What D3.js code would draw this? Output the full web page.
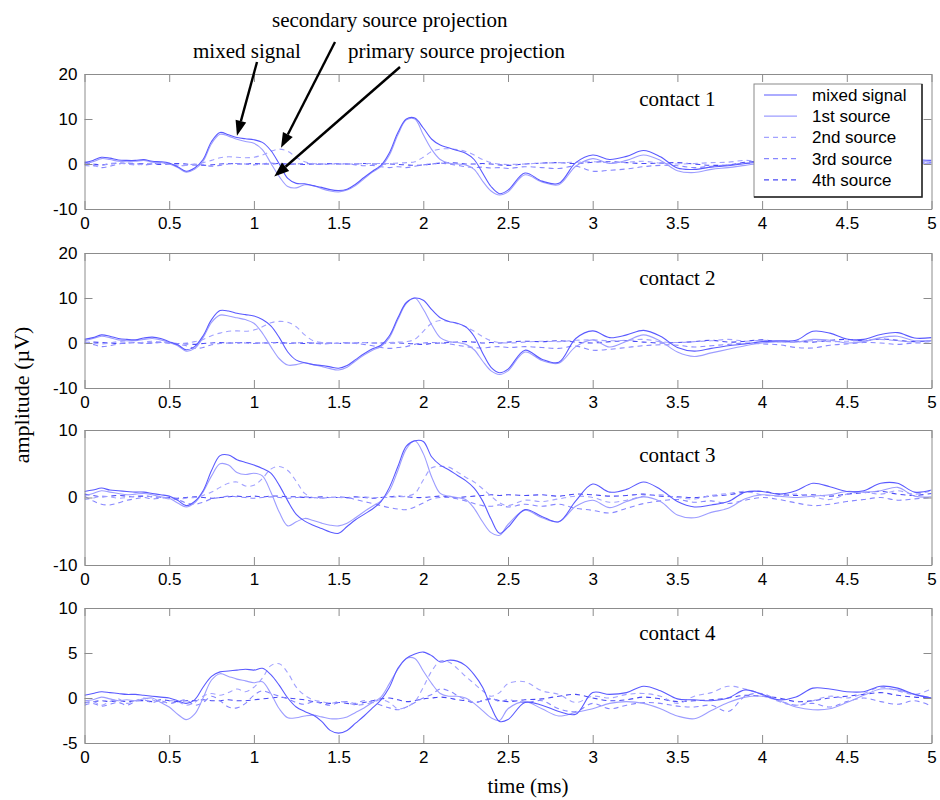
<!DOCTYPE html>
<html>
<head>
<meta charset="utf-8">
<script src="https://cdn.jsdelivr.net/npm/d3@7"></script>
<style>
  body { margin: 0; background: #fff; }
  svg { display: block; }
  .axis .tick text { font-family: "Liberation Sans", Arial, sans-serif; font-size: 17px; fill: #000; }
  .axis path, .axis line { stroke: #8c8c8c; }
</style>
</head>
<body>
<svg id="chart" width="940" height="800"></svg>
<script>
// Sample times (ms): 0.05 ms steps up to 2.5 ms, 0.1 ms steps afterwards
const timeMs = [0,0.05,0.1,0.15,0.2,0.25,0.3,0.35,0.4,0.45,0.5,0.55,0.6,0.65,0.7,0.75,0.8,0.85,0.9,0.95,1,1.05,1.1,1.15,1.2,1.25,1.3,1.35,1.4,1.45,1.5,1.55,1.6,1.65,1.7,1.75,1.8,1.85,1.9,1.95,2,2.05,2.1,2.15,2.2,2.25,2.3,2.35,2.4,2.45,2.5,
  2.6,2.7,2.8,2.9,3,3.1,3.2,3.3,3.4,3.5,3.6,3.7,3.8,3.9,4,4.1,4.2,4.3,4.4,4.5,4.6,4.7,4.8,4.9,5];

const seriesNames = ["mixed signal", "1st source", "2nd source", "3rd source", "4th source"];
const contactNames = ["contact 1", "contact 2", "contact 3", "contact 4"];
const xTickValues = [0,0.5,1,1.5,2,2.5,3,3.5,4,4.5,5];
const yDomains = [[-10,20],[-10,20],[-10,10],[-5,10]];
const yTickValues = [[-10,0,10,20],[-10,0,10,20],[-10,0,10],[-5,0,5,10]];

// contact 1 (µV)
const c1Mixed = [0.3,0.8,1.5,1.3,0.9,0.8,0.8,1.0,0.6,0.5,0.2,-0.6,-1.6,-0.9,1.0,5.0,7.0,6.5,5.9,5.6,5.4,4.8,3.0,0.0,-3.2,-4.3,-4.4,-4.8,-5.2,-5.7,-5.9,-5.6,-4.5,-3.0,-1.6,-0.3,2.5,7.0,10.0,10.2,8.0,5.5,4.2,3.6,3.0,2.4,1.0,-2.0,-5.0,-6.6,-5.8,
  -2.0,-3.8,-4.3,0.3,2.0,1.0,1.7,3.0,1.6,-0.9,-1.2,-0.7,-0.4,0.1,0.5,0.6,0.3,1.2,1.5,0.8,0.5,1.0,1.4,1.0,0.8];
const c1Src1 = [0.0,0.5,1.2,1.0,0.6,0.5,0.6,0.8,0.4,0.3,0.0,-0.8,-1.8,-1.2,0.6,4.5,6.6,6.2,5.5,5.0,4.6,3.2,0.2,-2.8,-5.0,-5.3,-4.6,-4.8,-5.5,-6.0,-6.2,-5.8,-4.8,-3.3,-1.8,-0.6,2.0,6.5,9.8,10.0,6.5,3.2,1.0,0.2,0.0,-0.2,-1.2,-3.8,-6.0,-6.9,-6.2,
  -2.4,-4.0,-4.6,-0.5,1.2,0.1,0.8,2.0,0.8,-1.5,-1.9,-1.2,-0.8,-0.3,0.2,0.3,0.0,0.8,1.0,0.4,0.2,0.6,1.0,0.6,0.5];
const c1Src2 = [-0.3,-0.5,-0.3,0.1,0.2,0.0,-0.2,0.0,0.2,0.1,0.0,-0.2,-0.3,-0.1,0.3,0.8,1.4,1.6,1.5,1.4,1.5,2.0,2.8,3.3,2.8,1.5,0.5,0.1,0.0,0.0,0.0,0.0,0.0,0.1,0.1,0.1,0.1,0.2,0.3,0.5,1.5,2.8,3.3,3.4,3.2,2.8,2.0,1.0,0.3,0.0,-0.1,
  0.0,0.2,0.3,0.4,0.5,0.3,0.4,0.6,0.2,0.0,0.1,0.3,0.4,0.8,0.5,0.3,0.2,0.4,0.3,0.2,0.4,0.3,0.2,0.3,0.2];
const c1Src3 = [0.5,-0.2,-0.8,-0.5,0.0,0.2,0.1,-0.2,0.0,0.2,0.0,-0.4,-0.3,0.0,-0.2,-0.5,-0.3,0.0,0.1,0.0,-0.2,0.0,0.2,0.0,-0.1,0.0,0.1,0.0,-0.1,0.0,0.1,0.0,-0.2,-0.4,-0.3,-0.6,-0.8,-0.6,-0.8,-0.5,-0.2,0.0,0.2,0.0,-0.3,-0.6,-0.8,-0.7,-0.9,-0.8,-1.0,
  -0.6,-0.8,-1.0,-0.5,-1.6,-1.4,-1.1,-0.6,-0.3,-0.4,-0.8,-0.5,-0.2,0.2,0.0,-0.2,0.1,0.0,-0.3,-0.1,0.2,0.0,-0.2,0.1,0.0];
const c1Src4 = [0.2,0.0,-0.2,0.0,0.2,0.1,0.0,0.1,0.0,-0.1,0.0,0.1,0.0,-0.2,-0.3,-0.2,0.0,0.1,0.0,0.0,0.1,0.0,0.0,0.1,0.0,0.0,-0.1,0.0,0.0,0.1,0.0,0.0,0.0,0.1,0.0,0.0,0.0,-0.1,-0.2,-0.3,-0.2,0.0,0.2,0.3,0.2,0.0,0.0,0.1,0.0,-0.2,-0.3,
  0.0,0.2,0.3,0.1,0.4,0.5,0.3,0.1,0.2,0.3,0.0,-0.3,-0.2,0.4,0.6,0.3,0.0,-0.2,0.2,0.4,0.1,0.3,0.5,0.2,0.3];

// contact 2 (µV)
const c2Mixed = [0.8,1.2,1.8,1.5,1.0,0.8,0.7,1.1,1.3,1.0,0.3,-0.4,-1.5,-0.8,1.6,5.2,7.2,7.1,6.6,6.3,6.0,5.2,3.8,1.2,-2.0,-3.8,-4.4,-4.8,-5.0,-5.3,-5.6,-5.0,-3.7,-2.4,-1.3,-0.5,1.6,5.6,9.0,10.0,9.5,7.4,5.6,4.8,4.4,3.6,1.5,-2.2,-5.4,-6.6,-5.8,
  -1.6,-3.6,-4.3,1.0,2.7,1.2,1.8,2.8,1.5,-1.0,-1.8,-1.2,-0.6,-0.2,0.3,0.5,0.6,2.6,2.2,0.9,0.8,1.9,2.3,1.1,1.2];
const c2Src1 = [0.5,1.0,1.5,1.2,0.7,0.5,0.5,0.8,1.0,0.7,0.1,-0.6,-1.8,-1.2,1.2,4.6,6.2,6.0,5.6,5.2,4.4,2.2,-0.8,-3.5,-4.9,-4.8,-4.4,-4.8,-5.2,-5.7,-6.0,-5.4,-4.0,-2.7,-1.6,-0.8,1.2,5.2,8.8,10.0,7.5,4.0,1.2,0.3,0.1,-0.3,-1.5,-4.0,-6.2,-7.0,-6.2,
  -2.0,-3.9,-4.5,-0.8,0.7,-0.9,0.4,1.8,0.4,-2.0,-3.0,-2.2,-1.4,-0.6,0.0,0.3,0.2,0.8,0.6,0.0,0.3,1.2,1.5,0.5,0.6];
const c2Src2 = [0.2,0.0,-0.2,0.0,0.3,0.2,0.0,0.2,0.4,0.2,0.0,-0.2,0.0,0.3,0.8,1.6,2.2,2.6,2.7,2.6,2.9,3.6,4.5,4.8,4.6,3.6,1.8,0.5,0.1,0.0,-0.1,0.0,0.0,0.1,0.0,0.0,0.1,0.2,0.3,0.8,2.6,4.4,5.0,4.8,4.3,3.6,2.6,1.4,0.5,0.1,0.0,
  0.2,0.4,0.3,0.6,0.7,0.5,0.6,0.8,0.3,0.1,0.3,0.5,0.8,0.4,0.6,0.3,0.2,0.5,0.3,0.4,0.6,0.8,0.5,0.2,0.4];
const c2Src3 = [0.3,-0.3,-0.8,-0.6,-0.2,0.0,0.1,-0.1,0.0,0.2,0.0,-0.3,-0.6,-1.2,-1.0,-0.4,-0.1,0.0,0.1,0.0,-0.1,0.0,0.1,0.0,-0.1,0.0,0.1,0.0,-0.2,-0.1,0.0,0.1,-0.1,-0.3,-0.6,-1.0,-1.2,-1.0,-0.8,-0.3,0.0,0.1,0.0,-0.2,-0.5,-0.8,-1.0,-1.1,-0.9,-0.8,-1.0,
  -0.8,-1.0,-1.2,-0.7,-1.6,-1.4,-1.0,-0.6,-0.4,-0.5,-0.9,-0.6,-0.3,0.0,-0.2,-0.4,-1.0,-1.1,-0.5,-0.2,0.1,0.0,-0.3,0.0,-0.1];
const c2Src4 = [0.0,0.2,0.1,0.0,-0.1,0.0,0.1,0.0,0.0,0.1,0.0,-0.1,-0.2,-0.3,-0.1,0.0,0.1,0.0,0.0,0.1,0.0,0.0,0.0,0.1,0.0,0.0,-0.1,0.0,0.0,0.0,-0.1,0.0,0.0,0.1,0.0,0.0,0.0,0.0,-0.1,-0.2,-0.3,-0.1,0.0,0.1,0.2,0.3,0.2,0.0,0.1,0.0,0.2,
  0.4,0.3,0.5,0.2,0.0,0.3,0.5,0.2,0.0,0.1,0.3,0.6,0.2,0.4,0.7,0.3,0.4,0.2,0.6,0.8,0.5,0.9,0.6,0.3,0.5];

// contact 3 (µV)
const c3Mixed = [0.9,1.1,1.4,1.1,1.0,0.9,0.8,0.8,0.6,0.4,0.2,-0.4,-1.2,-0.6,1.0,4.0,6.2,6.3,5.6,5.2,4.8,4.3,3.6,1.8,-0.5,-2.5,-3.5,-4.1,-4.6,-5.1,-5.3,-4.3,-3.3,-2.5,-1.7,-0.6,1.5,4.6,7.6,8.4,8.3,6.0,4.8,4.1,3.3,2.5,1.4,-0.5,-3.2,-5.3,-4.4,
  -1.8,-2.8,-3.6,-0.5,2.0,0.8,1.2,2.3,1.2,-0.6,-1.4,-1.1,-0.6,0.8,0.9,0.5,1.0,2.1,1.6,0.9,1.0,2.1,2.1,0.8,1.1];
const c3Src1 = [0.3,0.6,1.0,0.8,0.6,0.4,0.5,0.6,0.4,0.1,-0.1,-0.8,-1.4,-0.8,0.8,3.2,5.0,4.8,3.7,3.4,3.6,3.2,0.8,-2.2,-4.2,-3.6,-3.1,-3.4,-3.8,-4.1,-4.2,-3.8,-3.0,-2.1,-1.3,-0.5,1.0,4.0,7.2,8.4,6.5,3.0,0.6,0.2,0.0,-0.3,-1.6,-3.6,-5.2,-5.6,-4.0,
  -1.9,-3.0,-3.6,-1.3,-0.4,-1.5,-0.6,0.1,-0.6,-2.6,-3.0,-2.2,-1.6,-0.2,0.4,0.2,0.0,0.2,0.4,0.9,0.8,1.0,1.5,0.2,0.1];
const c3Src2 = [-0.3,-0.1,0.2,0.1,-0.1,0.0,0.2,0.3,0.1,0.0,-0.2,-0.3,-0.1,0.0,0.3,0.8,1.5,2.1,2.3,1.7,1.8,2.8,4.2,4.6,4.0,2.4,0.6,0.0,-0.1,0.0,0.0,-0.1,0.0,0.1,0.0,0.0,0.0,0.1,0.2,0.6,2.6,4.4,4.6,4.5,3.8,3.0,2.3,1.3,0.2,-0.8,-1.2,
  -0.4,-0.6,-0.2,0.2,0.0,-0.7,-0.4,0.2,0.4,0.0,-0.2,0.3,0.6,0.9,0.4,0.2,0.5,0.1,-0.3,0.5,0.8,0.5,1.0,0.5,1.0];
const c3Src3 = [0.2,-0.5,-1.0,-1.1,-0.8,-0.4,-0.2,0.0,-0.2,-0.1,0.0,-0.3,-0.8,-1.0,-0.7,-0.2,0.0,0.2,0.1,0.0,-0.1,0.0,0.1,0.0,-0.1,0.0,0.1,0.0,-0.1,0.0,0.1,0.0,-0.3,-0.6,-0.9,-1.2,-1.5,-1.7,-1.8,-1.4,-0.8,-0.2,0.0,0.0,-0.2,-0.5,-0.9,-1.2,-1.3,-1.1,-1.4,
  -1.0,-1.3,-1.0,-1.6,-1.9,-2.3,-1.6,-0.9,-0.5,-0.3,-0.7,-0.5,-0.9,-0.4,0.0,-0.3,-0.8,-1.2,-1.0,-0.6,-0.3,0.0,-0.4,-0.2,0.0];
const c3Src4 = [0.5,0.3,0.1,0.2,0.3,0.2,0.1,0.2,0.1,0.0,0.0,-0.1,0.0,0.1,0.0,-0.1,0.0,0.1,0.2,0.1,0.2,0.1,0.2,0.2,0.1,0.1,0.0,0.0,0.1,0.0,0.0,0.0,0.1,0.0,-0.1,0.0,0.1,0.2,0.1,0.0,0.0,0.1,0.2,0.1,0.0,0.1,0.2,0.3,0.4,0.3,0.4,
  0.3,0.4,0.2,0.5,0.4,0.2,0.3,0.5,0.2,0.1,0.0,0.2,0.4,0.8,0.9,0.5,0.3,0.4,0.2,0.5,0.7,0.9,0.5,0.3,0.6];

// contact 4 (µV)
const c4Mixed = [0.3,0.5,0.7,0.6,0.5,0.4,0.4,0.3,0.2,0.1,0.0,-0.3,-0.6,-0.2,1.2,2.4,2.9,3.0,3.1,3.2,3.1,3.3,2.6,1.4,0.0,-1.0,-1.5,-1.9,-2.6,-3.6,-3.9,-3.6,-2.8,-2.0,-1.1,-0.2,1.2,3.3,4.4,4.9,5.1,4.7,4.0,4.2,4.1,3.6,2.6,1.2,-1.0,-2.6,-2.4,
  -0.5,-0.8,-1.5,-1.8,0.6,0.4,0.6,1.3,0.8,-0.1,-0.2,-0.3,0.0,0.9,0.4,-0.2,0.1,1.1,1.0,0.7,0.7,1.3,1.1,0.4,0.0];
const c4Src1 = [-0.3,-0.2,0.1,-0.1,-0.3,-0.2,-0.3,-0.1,0.0,-0.5,-1.0,-1.8,-2.4,-1.8,0.0,2.0,2.7,2.4,2.1,1.9,1.7,1.8,0.5,-1.2,-2.2,-2.2,-2.0,-1.9,-2.1,-2.3,-2.3,-2.1,-1.6,-1.1,-0.5,0.1,1.6,3.2,4.4,4.4,3.0,1.6,0.5,0.2,0.2,0.0,-0.6,-1.4,-2.2,-2.5,-1.2,
  -0.4,-1.2,-2.0,-1.6,-1.2,-0.6,-0.4,-0.6,-1.2,-2.0,-2.3,-1.4,-0.5,0.1,0.2,-0.3,-1.0,-1.3,-1.2,-0.5,0.3,1.0,0.9,0.4,0.0];
const c4Src2 = [-0.6,-0.4,-0.8,-0.4,-0.1,-0.6,-0.3,0.0,-0.2,-0.5,-0.3,-0.4,-0.8,-0.5,0.2,0.5,0.3,0.6,1.0,0.7,1.2,2.2,3.6,3.8,2.8,1.2,0.3,-0.2,-0.4,-0.6,-0.4,-0.5,-0.8,-0.7,-0.5,-0.2,-0.5,-1.2,-1.0,-0.4,1.2,3.0,4.1,4.0,3.3,2.4,1.6,0.8,0.2,0.6,1.6,
  1.8,0.8,0.4,-0.5,0.2,0.0,0.4,0.5,0.2,-0.6,0.2,0.6,1.3,1.0,0.4,-0.4,-0.8,-0.3,0.2,0.0,0.5,1.2,0.8,0.4,1.0];
const c4Src3 = [-0.8,-0.6,-0.9,-0.7,-0.5,-0.8,-0.4,-0.2,-0.5,-0.3,-0.6,-0.4,-0.2,-0.8,-0.5,0.2,-0.3,-1.0,-1.1,-0.6,0.3,0.8,0.5,0.2,-0.1,-0.5,-0.7,-0.4,-0.6,-0.8,-0.5,-0.4,-0.6,-0.3,-0.5,-0.8,-1.1,-1.3,-1.0,-0.5,0.0,0.4,1.0,0.8,0.3,-0.2,-0.5,-0.3,0.0,-0.4,-0.2,
  -0.5,-0.3,-1.2,-1.5,-0.6,-1.2,-0.8,-0.5,-0.6,-0.9,-1.0,-0.8,-1.5,0.2,0.5,-0.3,-0.8,-0.6,-1.0,-0.4,0.0,-0.4,-0.7,-0.3,-0.9];
const c4Src4 = [-0.5,-0.4,-0.3,-0.4,-0.3,-0.4,-0.3,-0.3,-0.4,-0.2,-0.3,-0.4,-0.3,-0.3,-0.2,-0.3,-0.3,-0.2,-0.3,-0.3,-0.2,-0.1,0.0,0.1,0.0,-0.1,-0.2,-0.4,-0.5,-0.6,-0.5,-0.6,-0.7,-0.5,-0.3,-0.1,0.0,-0.2,-0.4,-0.3,-0.1,0.0,0.1,0.0,-0.2,-0.3,-0.5,-0.3,-0.1,-0.3,-0.4,
  -0.2,-0.1,0.2,0.4,0.0,-0.3,-0.2,0.1,-0.1,-0.4,-0.3,-0.2,0.0,0.3,0.2,0.0,-0.4,-0.3,0.0,0.2,0.4,0.6,0.3,0.1,0.0];

const contactSeries = [
  [c1Mixed, c1Src1, c1Src2, c1Src3, c1Src4],
  [c2Mixed, c2Src1, c2Src2, c2Src3, c2Src4],
  [c3Mixed, c3Src1, c3Src2, c3Src3, c3Src4],
  [c4Mixed, c4Src1, c4Src2, c4Src3, c4Src4]
];

// line styles per series (mixed, 1st .. 4th source)
const seriesColor = ["#5a5aff", "#9d9dff", "#a2a2ff", "#8787ff", "#4a4af5"];
const seriesDash = [null, null, "5,4", "5,4", "5,4"];

const svg = d3.select("#chart");
const x = d3.scaleLinear().domain([0, 5]).range([84.5, 931.5]);
const panelTops = [74, 253, 430, 608];
const panelHeight = 135;
const fmt = d => String(d);

const defs = svg.append("defs");

contactSeries.forEach((series, i) => {
  const top = panelTops[i], bottom = top + panelHeight;
  const y = d3.scaleLinear().domain(yDomains[i]).range([bottom, top]);
  const g = svg.append("g");

  defs.append("clipPath").attr("id", "clip" + i)
    .append("rect").attr("x", x(0)).attr("y", top).attr("width", x(5) - x(0)).attr("height", panelHeight);

  // traces: dashed sources first, then 1st source, mixed signal on top
  const line = d3.line()
    .x((d, j) => x(timeMs[j]))
    .y(d => y(d))
    .curve(d3.curveCatmullRom.alpha(0.5));
  const traces = g.append("g").attr("clip-path", "url(#clip" + i + ")");
  [4, 3, 2, 1, 0].forEach(k => {
    traces.append("path")
      .attr("d", line(series[k]))
      .attr("fill", "none")
      .attr("stroke", seriesColor[k])
      .attr("stroke-width", 1.1)
      .attr("stroke-dasharray", seriesDash[k]);
  });

  // boxed axes with inward ticks
  g.append("g").attr("class", "axis").attr("transform", `translate(0,${bottom})`)
    .call(d3.axisBottom(x).tickValues(xTickValues).tickFormat(fmt).tickSize(-8).tickSizeOuter(0).tickPadding(8));
  g.append("g").attr("class", "axis").attr("transform", `translate(0,${top})`)
    .call(d3.axisTop(x).tickValues(xTickValues).tickFormat("").tickSize(-8).tickSizeOuter(0));
  g.append("g").attr("class", "axis").attr("transform", `translate(${x(0)},0)`)
    .call(d3.axisLeft(y).tickValues(yTickValues[i]).tickFormat(fmt).tickSize(-8).tickSizeOuter(0).tickPadding(7));
  g.append("g").attr("class", "axis").attr("transform", `translate(${x(5)},0)`)
    .call(d3.axisRight(y).tickValues(yTickValues[i]).tickFormat("").tickSize(-8).tickSizeOuter(0));

  g.append("text")
    .attr("x", x(3.5)).attr("y", top + 32)
    .attr("text-anchor", "middle")
    .style("font-family", "'Liberation Serif', 'Times New Roman', serif")
    .style("font-size", "21px")
    .text(contactNames[i]);

  if (i === 0) {
    // legend box
    const lg = svg.append("g");
    const lx = 754, ly = 84, lw = 168, lh = 113;
    lg.append("rect").attr("x", lx).attr("y", ly).attr("width", lw).attr("height", lh)
      .attr("fill", "#fff").attr("stroke", "#8a8a8a").attr("stroke-width", 1);
    lg.append("path").attr("d", `M${lx + lw},${ly} V${ly + lh} H${lx}`)
      .attr("fill", "none").attr("stroke", "#222").attr("stroke-width", 1.5);
    seriesNames.forEach((name, k) => {
      const cy = ly + 11 + k * 21.2;
      lg.append("line").attr("x1", lx + 10).attr("x2", lx + 43).attr("y1", cy).attr("y2", cy)
        .attr("stroke", seriesColor[k]).attr("stroke-width", 1.2)
        .attr("stroke-dasharray", seriesDash[k]);
      lg.append("text").attr("x", lx + 58).attr("y", cy + 6)
        .style("font-family", "'Liberation Sans', Arial, sans-serif")
        .style("font-size", "17px")
        .text(name);
    });

    // annotation arrows pointing at the traces
    const arrows = [
      { from: [257, 62], t: 0.9, v: 6.3 },
      { from: [335, 42], t: 1.16, v: 3.6 },
      { from: [400, 67], t: 1.12, v: -2.8 }
    ];
    arrows.forEach(a => {
      const x1 = a.from[0], y1 = a.from[1], x2 = x(a.t), y2 = y(a.v);
      const ang = Math.atan2(y2 - y1, x2 - x1);
      const L = 15, W = 5.5;
      const bx = x2 - L * Math.cos(ang), by = y2 - L * Math.sin(ang);
      svg.append("line").attr("x1", x1).attr("y1", y1).attr("x2", bx).attr("y2", by)
        .attr("stroke", "#000").attr("stroke-width", 2.4);
      const px = -Math.sin(ang) * W, py = Math.cos(ang) * W;
      svg.append("path")
        .attr("d", `M${x2},${y2} L${bx + px},${by + py} L${bx - px},${by - py} Z`)
        .attr("fill", "#000");
    });
  }
});

const serif = "'Liberation Serif', 'Times New Roman', serif";
const notes = [
  { text: "secondary source projection", x: 272, y: 27 },
  { text: "mixed signal", x: 193, y: 58 },
  { text: "primary source projection", x: 348, y: 58 }
];
notes.forEach(n => {
  svg.append("text").attr("x", n.x).attr("y", n.y)
    .style("font-family", serif).style("font-size", "21px").text(n.text);
});

svg.append("text")
  .attr("transform", "translate(29,395) rotate(-90)")
  .attr("text-anchor", "middle")
  .style("font-family", serif).style("font-size", "22px")
  .text("amplitude (µV)");

svg.append("text")
  .attr("x", 528).attr("y", 793)
  .attr("text-anchor", "middle")
  .style("font-family", serif).style("font-size", "21px")
  .text("time (ms)");
</script>
</body>
</html>
